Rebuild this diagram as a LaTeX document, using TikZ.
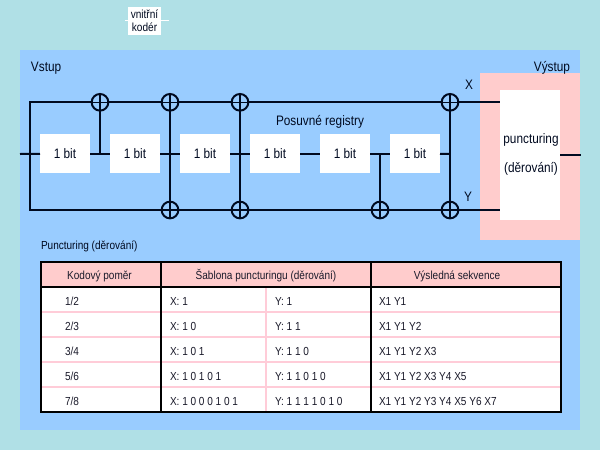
\documentclass[tikz,border=0pt]{standalone}
\usepackage{fontspec}
\setmainfont[FakeStretch=0.86]{Liberation Sans}
\definecolor{bgteal}{HTML}{B0E0E6}
\definecolor{panel}{HTML}{99CCFF}
\definecolor{rose}{HTML}{FFCCCC}
\definecolor{gridrose}{HTML}{FFCCD8}
\definecolor{ink}{HTML}{000A20}
\definecolor{tabink}{HTML}{1A1A2A}
\begin{document}
\begin{tikzpicture}[x=0.75pt,y=-0.75pt,
  every node/.style={font=\fontsize{10.3}{12}\selectfont,text=ink,inner sep=0pt,outer sep=0pt},
  bitbox/.style={fill=white,minimum width=37.5pt,minimum height=29.25pt},
  xorgate/.style={circle,draw=ink,line width=1.5pt,minimum size=12.5pt,
    path picture={\draw[ink,line width=1pt]
      (path picture bounding box.north)--(path picture bounding box.south)
      (path picture bounding box.west)--(path picture bounding box.east);}},
  wire/.style={draw=ink,line width=1.5pt},
  lead/.style={anchor=west,text=tabink},
  mid/.style={anchor=center,text=tabink},
  grid/.style={draw=gridrose,line width=1.5pt},
  frame/.style={draw=black,line width=1.5pt}]
\useasboundingbox (0,0) rectangle (600,450);
\fill[bgteal] (0,0) rectangle (600,450);
\fill[panel] (20,50) rectangle (580,430);
\fill[rose] (480,73) rectangle (580,240);
% top label
\draw[white,line width=1pt] (125,20.5) -- (169,20.5);
\node[fill=white,minimum width=24.5pt,minimum height=21pt,align=center,
  font=\fontsize{8.8}{10}\selectfont] (lbl) at (144.5,21) {vnitřní\\[-0.5pt]kodér};
% free ends
\coordinate (in) at (20,154);
\coordinate (out) at (581,155);
\coordinate (tl) at (30,102.3);
\coordinate (bl) at (30,210);
% registers
\node[bitbox] (b1) at (65,153.5) {1 bit};
\node[bitbox] (b2) at (135,153.5) {1 bit};
\node[bitbox] (b3) at (205,153.5) {1 bit};
\node[bitbox] (b4) at (275,153.5) {1 bit};
\node[bitbox] (b5) at (345,153.5) {1 bit};
\node[bitbox] (b6) at (415,153.5) {1 bit};
\node[fill=white,minimum width=45pt,minimum height=97.5pt] (p) at (530,155) {};
\node (p1) at (531,140) {puncturing};
\node (p2) at (531,169) {(děrování)};
% gates
\node[xorgate] (t1) at (100,102.3) {};
\node[xorgate] (t2) at (170,102.3) {};
\node[xorgate] (t3) at (240,102.3) {};
\node[xorgate] (t4) at (450,102.3) {};
\node[xorgate] (u2) at (170,210) {};
\node[xorgate] (u3) at (240,210) {};
\node[xorgate] (u5) at (380,210) {};
\node[xorgate] (u6) at (450,210) {};
% junctions on the register line
\coordinate (j1) at (100,154);
\coordinate (j5) at (380,154);
\coordinate (j6) at (450,154);
\coordinate (px) at (p.west |- t4);
\coordinate (py) at (p.west |- u6);
% wires
\draw[wire] (in) -- (b1);
\draw[wire] (b1) -- (b2);
\draw[wire] (b2) -- (b3);
\draw[wire] (b3) -- (b4);
\draw[wire] (b4) -- (b5);
\draw[wire] (b5) -- (b6);
\draw[wire] (b6) -- (j6);
\draw[wire] (p.east |- out) -- (out);
\draw[wire] (t1.east) -- (t2.west);
\draw[wire] (t2.east) -- (t3.west);
\draw[wire] (t3.east) -- (t4.west);
\draw[wire] (t4.east) -- (px);
\draw[wire] (u2.east) -- (u3.west);
\draw[wire] (u3.east) -- (u5.west);
\draw[wire] (u5.east) -- (u6.west);
\draw[wire] (u6.east) -- (py);
\draw[wire] (t1.west) -- (tl) -- (bl) -- (u2.west);
\draw[wire] (t1.south) -- (j1);
\draw[wire] (t2.south) -- (u2.north);
\draw[wire] (t3.south) -- (u3.north);
\draw[wire] (t4.south) -- (u6.north);
\draw[wire] (j5) -- (u5.north);
% labels
\node[anchor=west] (vstup) at (31,68) {Vstup};
\node[anchor=east] (vystup) at (570,68) {Výstup};
\node (lx) at (469,85) {X};
\node (ly) at (468,197) {Y};
\node (reg) at (320,122) {Posuvné registry};
\node[anchor=west,font=\fontsize{8.75}{10}\selectfont] (ptitle) at (41,246) {Puncturing (děrování)};
% table
\fill[white] (41,262) rectangle (561,412);
\fill[rose] (41,262) rectangle (561,287);
\draw[grid] (41,312) -- (561,312);
\draw[grid] (41,337) -- (561,337);
\draw[grid] (41,362) -- (561,362);
\draw[grid] (41,387) -- (561,387);
\draw[grid] (266,287) -- (266,412);
\draw[frame] (41,262) rectangle (561,412);
\draw[frame] (41,287) -- (561,287);
\draw[frame] (161,262) -- (161,412);
\draw[frame] (371,262) -- (371,412);
\begin{scope}[every node/.append style={font=\fontsize{8.75}{10}\selectfont}]
\node[mid] (h1) at (99.5,276) {Kodový poměr};
\node[mid] (h2) at (266,276) {Šablona puncturingu (děrování)};
\node[mid] (h3) at (457,276) {Výsledná sekvence};
\node[lead] (r1a) at (65,301) {1/2};
\node[lead] (r1b) at (170,301) {X: 1};
\node[lead] (r1c) at (275,301) {Y: 1};
\node[lead] (r1d) at (379,301) {X1 Y1};
\node[lead] (r2a) at (65,326) {2/3};
\node[lead] (r2b) at (170,326) {X: 1 0};
\node[lead] (r2c) at (275,326) {Y: 1 1};
\node[lead] (r2d) at (379,326) {X1 Y1 Y2};
\node[lead] (r3a) at (65,351) {3/4};
\node[lead] (r3b) at (170,351) {X: 1 0 1};
\node[lead] (r3c) at (275,351) {Y: 1 1 0};
\node[lead] (r3d) at (379,351) {X1 Y1 Y2 X3};
\node[lead] (r4a) at (65,376) {5/6};
\node[lead] (r4b) at (170,376) {X: 1 0 1 0 1};
\node[lead] (r4c) at (275,376) {Y: 1 1 0 1 0};
\node[lead] (r4d) at (379,376) {X1 Y1 Y2 X3 Y4 X5};
\node[lead] (r5a) at (65,401) {7/8};
\node[lead] (r5b) at (170,401) {X: 1 0 0 0 1 0 1};
\node[lead] (r5c) at (275,401) {Y: 1 1 1 1 0 1 0};
\node[lead] (r5d) at (379,401) {X1 Y1 Y2 Y3 Y4 X5 Y6 X7};
\end{scope}
\end{tikzpicture}
\end{document}
